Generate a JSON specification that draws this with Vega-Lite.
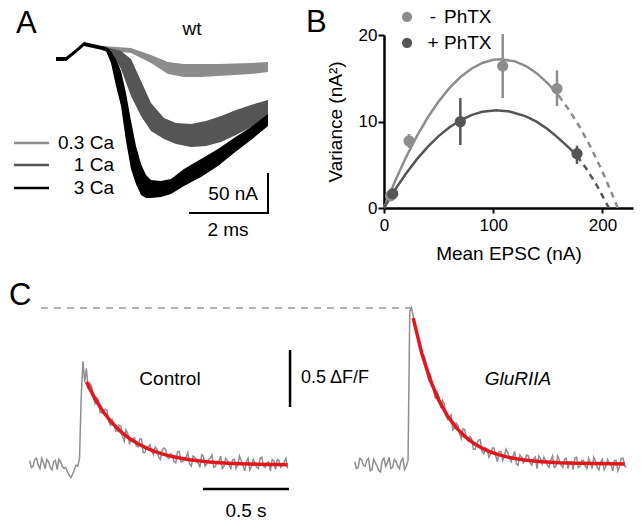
{
"$schema": "https://vega.github.io/schema/vega-lite/v6.json",
"autosize": {"type": "pad"},
"padding": {"left": 8, "top": 6, "right": 4, "bottom": 4},
"columns": 2,
"align": "each",
"bounds": "flush",
"spacing": {"row": 20, "column": 20},
"config": {"view": {"stroke": null}, "font": "Liberation Sans"},
"datasets": {
"aBand03": [{"t":2.385,"hi":3.8,"lo":-1.3},{"t":3.128,"hi":1.3,"lo":-5.1},{"t":3.641,"hi":-7.7,"lo":-17.9},{"t":4.077,"hi":-16.7,"lo":-32.1},{"t":4.487,"hi":-19.2,"lo":-35.9},{"t":4.923,"hi":-19.2,"lo":-35.9},{"t":5.359,"hi":-19.2,"lo":-34.6},{"t":6.205,"hi":-17.9,"lo":-32.1},{"t":6.641,"hi":-16.7,"lo":-29.5}],
"aBand1": [{"t":2.385,"hi":3.8,"lo":-1.3},{"t":2.667,"hi":0,"lo":-6.4},{"t":2.872,"hi":-2.6,"lo":-25.6},{"t":3.128,"hi":-12.8,"lo":-60.3},{"t":3.385,"hi":-41.0,"lo":-85.9},{"t":3.641,"hi":-69.2,"lo":-105.1},{"t":3.974,"hi":-88.5,"lo":-115.4},{"t":4.282,"hi":-94.9,"lo":-121.8},{"t":4.667,"hi":-96.2,"lo":-125.6},{"t":5.051,"hi":-92.3,"lo":-124.4},{"t":5.436,"hi":-85.9,"lo":-119.2},{"t":5.821,"hi":-78.2,"lo":-110.3},{"t":6.205,"hi":-71.8,"lo":-100.0},{"t":6.641,"hi":-65.4,"lo":-88.5}],
"aBand3": [{"t":1.205,"hi":-10.3,"lo":-15.4},{"t":1.462,"hi":-10.3,"lo":-15.4},{"t":1.718,"hi":0,"lo":-5.1},{"t":1.923,"hi":9.0,"lo":3.8},{"t":2.154,"hi":6.4,"lo":1.3},{"t":2.385,"hi":3.8,"lo":-1.3},{"t":2.487,"hi":2.6,"lo":-2.6},{"t":2.615,"hi":-2.6,"lo":-17.9},{"t":2.744,"hi":-12.8,"lo":-47.4},{"t":2.872,"hi":-28.2,"lo":-73.1},{"t":3.0,"hi":-56.4,"lo":-117.9},{"t":3.128,"hi":-92.3,"lo":-153.8},{"t":3.256,"hi":-124.4,"lo":-173.1},{"t":3.385,"hi":-147.4,"lo":-187.2},{"t":3.513,"hi":-161.5,"lo":-191.0},{"t":3.641,"hi":-167.9,"lo":-191.0},{"t":3.897,"hi":-169.2,"lo":-189.7},{"t":4.154,"hi":-166.7,"lo":-185.9},{"t":4.487,"hi":-153.8,"lo":-175.6},{"t":4.923,"hi":-141.0,"lo":-164.1},{"t":5.359,"hi":-128.2,"lo":-150.0},{"t":5.769,"hi":-114.1,"lo":-133.3},{"t":6.205,"hi":-100.0,"lo":-116.7},{"t":6.641,"hi":-83.3,"lo":-98.7}],
"aLeg": [{"c":"0.3","t":0.128,"I":-120.5},{"c":"0.3","t":1.026,"I":-120.5},{"c":"1","t":0.128,"I":-148.7},{"c":"1","t":1.026,"I":-148.7},{"c":"3","t":0.128,"I":-178.2},{"c":"3","t":1.026,"I":-178.2}],
"aRules": [{"t1":6.641,"t2":6.641,"I1":-160.3,"I2":-210.3},{"t1":4.641,"t2":6.641,"I1":-210.3,"I2":-210.3}],
"aLabel": [{"t":0.18,"I":20.5,"txt":"A"}],
"aTextC": [{"t":4.69,"I":25.6,"txt":"wt"},{"t":5.615,"I":-232.5,"txt":"2 ms"}],
"aTextR": [{"t":2.692,"I":-120.5,"txt":"0.3 Ca"},{"t":2.692,"I":-148.7,"txt":"1 Ca"},{"t":2.692,"I":-178.2,"txt":"3 Ca"},{"t":6.385,"I":-185.9,"txt":"50 nA"}],
"bPts": [{"g":"minus","I":6,"v":1.4},{"g":"minus","I":22.9,"v":7.75},{"g":"minus","I":108.7,"v":16.4},{"g":"minus","I":158.4,"v":13.8},{"g":"plus","I":8,"v":1.65},{"g":"plus","I":69.9,"v":9.98},{"g":"plus","I":176.7,"v":6.28}],
"bErr": [{"id":1,"g":"minus","I":6,"v":1.2},{"id":1,"g":"minus","I":6,"v":1.6},{"id":2,"g":"minus","I":22.9,"v":6.95},{"id":2,"g":"minus","I":22.9,"v":8.55},{"id":3,"g":"minus","I":108.7,"v":12.7},{"id":3,"g":"minus","I":108.7,"v":20.1},{"id":4,"g":"minus","I":158.4,"v":11.8},{"id":4,"g":"minus","I":158.4,"v":15.9},{"id":5,"g":"plus","I":8,"v":1.3},{"id":5,"g":"plus","I":8,"v":2.0},{"id":6,"g":"plus","I":69.9,"v":7.28},{"id":6,"g":"plus","I":69.9,"v":12.7},{"id":7,"g":"plus","I":176.7,"v":5.1},{"id":7,"g":"plus","I":176.7,"v":7.2}],
"bFitSolid": [{"g":"minus","I":0,"v":0},{"g":"minus","I":10,"v":3.06},{"g":"minus","I":20,"v":5.83},{"g":"minus","I":30,"v":8.29},{"g":"minus","I":40,"v":10.46},{"g":"minus","I":50,"v":12.32},{"g":"minus","I":60,"v":13.88},{"g":"minus","I":70,"v":15.14},{"g":"minus","I":80,"v":16.1},{"g":"minus","I":90,"v":16.77},{"g":"minus","I":100,"v":17.13},{"g":"minus","I":107,"v":17.2},{"g":"minus","I":120,"v":16.95},{"g":"minus","I":130,"v":16.41},{"g":"minus","I":140,"v":15.56},{"g":"minus","I":150,"v":14.42},{"g":"minus","I":160,"v":12.98},{"g":"plus","I":0,"v":0},{"g":"plus","I":10,"v":2.09},{"g":"plus","I":20,"v":3.96},{"g":"plus","I":30,"v":5.62},{"g":"plus","I":40,"v":7.07},{"g":"plus","I":50,"v":8.31},{"g":"plus","I":60,"v":9.33},{"g":"plus","I":70,"v":10.14},{"g":"plus","I":80,"v":10.74},{"g":"plus","I":90,"v":11.12},{"g":"plus","I":103,"v":11.3},{"g":"plus","I":115,"v":11.15},{"g":"plus","I":130,"v":10.6},{"g":"plus","I":140,"v":9.95},{"g":"plus","I":150,"v":9.1},{"g":"plus","I":160,"v":8.05},{"g":"plus","I":170,"v":6.9},{"g":"plus","I":177,"v":6.0}],
"bFitDash": [{"g":"minus","I":160,"v":12.98},{"g":"minus","I":170,"v":11.24},{"g":"minus","I":180,"v":9.2},{"g":"minus","I":190,"v":6.85},{"g":"minus","I":200,"v":4.21},{"g":"minus","I":210,"v":1.26},{"g":"minus","I":214,"v":0},{"g":"plus","I":177,"v":6.0},{"g":"plus","I":185,"v":4.6},{"g":"plus","I":195,"v":2.6},{"g":"plus","I":206,"v":0}],
"bLegPts": [{"g":"minus","I":21.1,"v":22.1},{"g":"plus","I":21.1,"v":19.1}],
"bLegSym": [{"I":44.8,"v":22.1,"txt":"-"},{"I":44.8,"v":19.1,"txt":"+"}],
"bLegTxt": [{"I":54.9,"v":22.1,"txt":"PhTX"},{"I":54.9,"v":19.1,"txt":"PhTX"}],
"bLabel": [{"I":-71.4,"v":20.35,"txt":"B"}],
"cCtrl": [
{"t":0.12,"v":0.03},{"t":0.14,"v":-0.02},{"t":0.16,"v":0.05},{"t":0.18,"v":-0.04},{"t":0.20,"v":0.01},{"t":0.22,"v":0.04},{"t":0.24,"v":-0.03},{"t":0.26,"v":0.02},{"t":0.28,"v":-0.05},{"t":0.30,"v":0.02},{"t":0.32,"v":-0.04},{"t":0.34,"v":-0.07},{"t":0.36,"v":-0.12},{"t":0.38,"v":-0.05},{"t":0.40,"v":-0.02},{"t":0.41,"v":0.05},{"t":0.42,"v":0.60},{"t":0.43,"v":0.90},{"t":0.44,"v":0.72},{"t":0.45,"v":0.84},{"t":0.46,"v":0.66},{"t":0.48,"v":0.68},{"t":0.50,"v":0.53},{"t":0.52,"v":0.56},{"t":0.54,"v":0.45},{"t":0.56,"v":0.48},{"t":0.58,"v":0.37},{"t":0.60,"v":0.39},{"t":0.62,"v":0.29},{"t":0.64,"v":0.34},{"t":0.66,"v":0.24},{"t":0.68,"v":0.30},{"t":0.70,"v":0.18},{"t":0.72,"v":0.22},{"t":0.74,"v":0.16},{"t":0.76,"v":0.22},{"t":0.78,"v":0.10},{"t":0.80,"v":0.15},{"t":0.82,"v":0.17},{"t":0.84,"v":0.08},{"t":0.86,"v":0.13},{"t":0.88,"v":0.04},{"t":0.90,"v":0.14},{"t":0.92,"v":0.06},{"t":0.94,"v":0.09},{"t":0.96,"v":0.02},{"t":0.98,"v":0.11},{"t":1.00,"v":0.02},{"t":1.02,"v":0.05},{"t":1.04,"v":0.10},{"t":1.06,"v":-0.02},{"t":1.08,"v":0.06},{"t":1.10,"v":0.01},{"t":1.12,"v":0.08},{"t":1.14,"v":-0.02},{"t":1.16,"v":0.04},{"t":1.18,"v":0.08},{"t":1.20,"v":-0.02},{"t":1.22,"v":0.02},{"t":1.24,"v":-0.04},{"t":1.26,"v":0.05},{"t":1.28,"v":-0.01},{"t":1.30,"v":0.04},{"t":1.32,"v":-0.04},{"t":1.34,"v":0.07},{"t":1.36,"v":-0.01},{"t":1.38,"v":0.02},{"t":1.40,"v":-0.05},{"t":1.42,"v":0.04},{"t":1.44,"v":-0.03},{"t":1.46,"v":0.05},{"t":1.48,"v":-0.02},{"t":1.50,"v":0.01},{"t":1.52,"v":-0.06},{"t":1.54,"v":0.03},{"t":1.56,"v":0.04},{"t":1.58,"v":-0.03},{"t":1.60,"v":0.02},{"t":1.62,"v":-0.04},
{"t":0.13,"v":-0.03},{"t":0.15,"v":0.04},{"t":0.17,"v":-0.01},{"t":0.19,"v":0.05},{"t":0.21,"v":-0.04},{"t":0.23,"v":0.02},{"t":0.25,"v":-0.05},{"t":0.27,"v":0.03},{"t":0.29,"v":0.04},{"t":0.31,"v":-0.02},{"t":0.33,"v":-0.03},{"t":0.35,"v":-0.10},{"t":0.37,"v":-0.09},{"t":0.39,"v":-0.01},
{"t":0.47,"v":0.71},{"t":0.49,"v":0.59},{"t":0.51,"v":0.58},{"t":0.53,"v":0.45},{"t":0.55,"v":0.47},{"t":0.57,"v":0.47},{"t":0.59,"v":0.34},{"t":0.61,"v":0.35},{"t":0.63,"v":0.29},{"t":0.65,"v":0.33},{"t":0.67,"v":0.20},{"t":0.69,"v":0.27},{"t":0.71,"v":0.21},{"t":0.73,"v":0.23},{"t":0.75,"v":0.15},{"t":0.77,"v":0.22},{"t":0.79,"v":0.10},{"t":0.81,"v":0.15},{"t":0.83,"v":0.11},{"t":0.85,"v":0.15},{"t":0.87,"v":0.06},{"t":0.89,"v":0.12},{"t":0.91,"v":0.13},{"t":0.93,"v":0.05},{"t":0.95,"v":0.08},{"t":0.97,"v":0.01},{"t":0.99,"v":0.11},{"t":1.01,"v":0.02},{"t":1.03,"v":0.06},{"t":1.05,"v":0.00},{"t":1.07,"v":0.07},{"t":1.09,"v":0.03},{"t":1.11,"v":-0.03},{"t":1.13,"v":0.07},{"t":1.15,"v":0.00},{"t":1.17,"v":0.05},{"t":1.19,"v":-0.03},{"t":1.21,"v":0.02},{"t":1.23,"v":0.07},{"t":1.25,"v":-0.02},{"t":1.27,"v":0.03},{"t":1.29,"v":-0.04},{"t":1.31,"v":0.04},{"t":1.33,"v":-0.01},{"t":1.35,"v":0.03},{"t":1.37,"v":-0.06},{"t":1.39,"v":0.05},{"t":1.41,"v":-0.02},{"t":1.43,"v":0.01},{"t":1.45,"v":-0.04},{"t":1.47,"v":0.06},{"t":1.49,"v":-0.03},{"t":1.51,"v":0.02},{"t":1.53,"v":0.04},{"t":1.55,"v":-0.05},{"t":1.57,"v":0.03},{"t":1.59,"v":-0.01},{"t":1.61,"v":0.05}],
"cGlu": [
{"t":2.01,"v":0.02},{"t":2.03,"v":-0.03},{"t":2.05,"v":0.04},{"t":2.07,"v":-0.02},{"t":2.09,"v":0.05},{"t":2.11,"v":-0.05},{"t":2.13,"v":0.01},{"t":2.15,"v":-0.06},{"t":2.17,"v":0.03},{"t":2.19,"v":-0.02},{"t":2.21,"v":0.06},{"t":2.23,"v":-0.03},{"t":2.25,"v":0.02},{"t":2.27,"v":-0.04},{"t":2.29,"v":0.05},{"t":2.31,"v":-0.02},{"t":2.32,"v":0.03},{"t":2.33,"v":1.34},{"t":2.34,"v":1.37},{"t":2.35,"v":1.30},{"t":2.37,"v":1.17},{"t":2.39,"v":1.00},{"t":2.41,"v":0.96},{"t":2.43,"v":0.80},{"t":2.45,"v":0.78},{"t":2.47,"v":0.63},{"t":2.49,"v":0.63},{"t":2.51,"v":0.49},{"t":2.53,"v":0.53},{"t":2.55,"v":0.39},{"t":2.57,"v":0.43},{"t":2.59,"v":0.32},{"t":2.61,"v":0.34},{"t":2.63,"v":0.22},{"t":2.65,"v":0.30},{"t":2.67,"v":0.20},{"t":2.69,"v":0.22},{"t":2.71,"v":0.13},{"t":2.73,"v":0.21},{"t":2.75,"v":0.11},{"t":2.77,"v":0.14},{"t":2.79,"v":0.06},{"t":2.81,"v":0.14},{"t":2.83,"v":0.07},{"t":2.85,"v":0.11},{"t":2.87,"v":0.03},{"t":2.89,"v":0.13},{"t":2.91,"v":0.05},{"t":2.93,"v":0.07},{"t":2.95,"v":0.00},{"t":2.97,"v":0.08},{"t":2.99,"v":0.01},{"t":3.01,"v":0.08},{"t":3.03,"v":0.01},{"t":3.05,"v":0.04},{"t":3.07,"v":-0.04},{"t":3.09,"v":0.05},{"t":3.11,"v":0.06},{"t":3.13,"v":-0.01},{"t":3.15,"v":0.03},{"t":3.17,"v":-0.03},{"t":3.19,"v":0.07},{"t":3.21,"v":-0.01},{"t":3.23,"v":0.04},{"t":3.25,"v":-0.04},{"t":3.27,"v":0.02},{"t":3.29,"v":0.05},{"t":3.31,"v":-0.03},{"t":3.33,"v":0.03},{"t":3.35,"v":-0.02},{"t":3.37,"v":0.05},{"t":3.39,"v":-0.04},{"t":3.41,"v":0.02},{"t":3.43,"v":-0.05},{"t":3.45,"v":0.04},{"t":3.47,"v":-0.02},{"t":3.49,"v":0.01},{"t":3.51,"v":-0.06},{"t":3.53,"v":0.03},{"t":3.55,"v":-0.02},{"t":3.57,"v":0.05},{"t":3.59,"v":-0.03},
{"t":2.02,"v":-0.04},{"t":2.04,"v":0.05},{"t":2.06,"v":-0.01},{"t":2.08,"v":0.03},{"t":2.10,"v":-0.06},{"t":2.12,"v":0.04},{"t":2.14,"v":-0.02},{"t":2.16,"v":-0.07},{"t":2.18,"v":0.05},{"t":2.20,"v":0.01},{"t":2.22,"v":-0.04},{"t":2.24,"v":0.04},{"t":2.26,"v":-0.02},{"t":2.28,"v":0.03},{"t":2.30,"v":-0.05},
{"t":2.36,"v":1.19},{"t":2.38,"v":1.11},{"t":2.40,"v":0.96},{"t":2.42,"v":0.92},{"t":2.44,"v":0.74},{"t":2.46,"v":0.72},{"t":2.48,"v":0.57},{"t":2.50,"v":0.59},{"t":2.52,"v":0.56},{"t":2.54,"v":0.43},{"t":2.56,"v":0.41},{"t":2.58,"v":0.30},{"t":2.60,"v":0.36},{"t":2.62,"v":0.26},{"t":2.64,"v":0.31},{"t":2.66,"v":0.22},{"t":2.68,"v":0.24},{"t":2.70,"v":0.13},{"t":2.72,"v":0.18},{"t":2.74,"v":0.21},{"t":2.76,"v":0.09},{"t":2.78,"v":0.13},{"t":2.80,"v":0.09},{"t":2.82,"v":0.14},{"t":2.84,"v":0.02},{"t":2.86,"v":0.11},{"t":2.88,"v":0.07},{"t":2.90,"v":0.10},{"t":2.92,"v":0.02},{"t":2.94,"v":0.11},{"t":2.96,"v":-0.01},{"t":2.98,"v":0.06},{"t":3.00,"v":0.03},{"t":3.02,"v":0.07},{"t":3.04,"v":-0.01},{"t":3.06,"v":0.06},{"t":3.08,"v":0.07},{"t":3.10,"v":0.00},{"t":3.12,"v":0.03},{"t":3.14,"v":-0.03},{"t":3.16,"v":0.07},{"t":3.18,"v":-0.02},{"t":3.20,"v":0.03},{"t":3.22,"v":-0.03},{"t":3.24,"v":0.05},{"t":3.26,"v":0.01},{"t":3.28,"v":-0.05},{"t":3.30,"v":0.06},{"t":3.32,"v":-0.02},{"t":3.34,"v":0.03},{"t":3.36,"v":-0.04},{"t":3.38,"v":0.01},{"t":3.40,"v":0.06},{"t":3.42,"v":-0.03},{"t":3.44,"v":0.02},{"t":3.46,"v":-0.05},{"t":3.48,"v":0.04},{"t":3.50,"v":-0.01},{"t":3.52,"v":0.03},{"t":3.54,"v":-0.06},{"t":3.56,"v":0.05},{"t":3.58,"v":-0.02}],
"cFitCtrl": [{"t":0.45,"v":0.72},{"t":0.50,"v":0.572},{"t":0.55,"v":0.453},{"t":0.60,"v":0.359},{"t":0.65,"v":0.284},{"t":0.70,"v":0.224},{"t":0.75,"v":0.177},{"t":0.80,"v":0.139},{"t":0.85,"v":0.108},{"t":0.90,"v":0.084},{"t":0.95,"v":0.065},{"t":1.00,"v":0.05},{"t":1.05,"v":0.038},{"t":1.10,"v":0.028},{"t":1.15,"v":0.02},{"t":1.20,"v":0.014},{"t":1.25,"v":0.009},{"t":1.30,"v":0.005},{"t":1.35,"v":0.002},{"t":1.40,"v":0.0},{"t":1.45,"v":-0.002},{"t":1.50,"v":-0.004},{"t":1.55,"v":-0.005},{"t":1.62,"v":-0.006}],
"cFitGlu": [{"t":2.35,"v":1.28},{"t":2.40,"v":0.97},{"t":2.45,"v":0.734},{"t":2.50,"v":0.556},{"t":2.55,"v":0.421},{"t":2.60,"v":0.319},{"t":2.65,"v":0.242},{"t":2.70,"v":0.183},{"t":2.75,"v":0.139},{"t":2.80,"v":0.105},{"t":2.85,"v":0.08},{"t":2.90,"v":0.06},{"t":2.95,"v":0.046},{"t":3.00,"v":0.035},{"t":3.05,"v":0.026},{"t":3.10,"v":0.02},{"t":3.15,"v":0.015},{"t":3.20,"v":0.011},{"t":3.25,"v":0.009},{"t":3.30,"v":0.007},{"t":3.40,"v":0.004},{"t":3.50,"v":0.002},{"t":3.58,"v":0.001}],
"cDash": [{"t":0.186,"v":1.368},{"t":2.355,"v":1.368}],
"cRules": [{"t1":1.634,"t2":1.634,"v1":0.5,"v2":1.0},{"t1":1.128,"t2":1.628,"v1":-0.219,"v2":-0.219}],
"cLabel": [{"t":0,"v":1.395,"txt":"C"}],
"cTextL": [{"t":1.698,"v":0.754,"txt":"0.5 ΔF/F"}],
"cTextC": [{"t":0.936,"v":0.746,"txt":"Control"},{"t":1.378,"v":-0.412,"txt":"0.5 s"}],
"cTextI": [{"t":2.959,"v":0.746,"txt":"GluRIIA"}]
},
"concat": [
{
"width": 355, "height": 173,
"layer": [
{"data": {"name": "aBand03"}, "mark": {"type": "area", "color": "#8d8d8d", "clip": false},
 "encoding": {"x": {"field": "t", "type": "quantitative", "scale": {"domain": [0, 9.1026], "nice": false, "zero": false}, "axis": null},
  "y": {"field": "hi", "type": "quantitative", "scale": {"domain": [-203.85, 17.95], "nice": false, "zero": false}, "axis": null, "stack": null},
  "y2": {"field": "lo"}}},
{"data": {"name": "aBand1"}, "mark": {"type": "area", "color": "#555555", "clip": false},
 "encoding": {"x": {"field": "t", "type": "quantitative", "axis": null},
  "y": {"field": "hi", "type": "quantitative", "axis": null, "stack": null},
  "y2": {"field": "lo"}}},
{"data": {"name": "aBand3"}, "mark": {"type": "area", "color": "#000000", "clip": false},
 "encoding": {"x": {"field": "t", "type": "quantitative", "axis": null},
  "y": {"field": "hi", "type": "quantitative", "axis": null, "stack": null},
  "y2": {"field": "lo"}}},
{"data": {"name": "aLeg"}, "mark": {"type": "line", "strokeWidth": 2.5, "clip": false},
 "encoding": {"x": {"field": "t", "type": "quantitative", "axis": null},
  "y": {"field": "I", "type": "quantitative", "axis": null},
  "color": {"field": "c", "type": "nominal", "scale": {"domain": ["0.3", "1", "3"], "range": ["#8d8d8d", "#555555", "#000000"]}, "legend": null}}},
{"data": {"name": "aRules"}, "mark": {"type": "rule", "strokeWidth": 2, "color": "#000", "strokeCap": "square", "clip": false},
 "encoding": {"x": {"field": "t1", "type": "quantitative", "axis": null}, "x2": {"field": "t2"},
  "y": {"field": "I1", "type": "quantitative", "axis": null}, "y2": {"field": "I2"}}},
{"data": {"name": "aLabel"}, "mark": {"type": "text", "fontSize": 31, "align": "left", "baseline": "alphabetic", "color": "#000", "clip": false},
 "encoding": {"x": {"field": "t", "type": "quantitative", "axis": null}, "y": {"field": "I", "type": "quantitative", "axis": null}, "text": {"field": "txt"}}},
{"data": {"name": "aTextC"}, "mark": {"type": "text", "fontSize": 19, "align": "center", "baseline": "middle", "color": "#000", "clip": false},
 "encoding": {"x": {"field": "t", "type": "quantitative", "axis": null}, "y": {"field": "I", "type": "quantitative", "axis": null}, "text": {"field": "txt"}}},
{"data": {"name": "aTextR"}, "mark": {"type": "text", "fontSize": 19, "align": "right", "baseline": "middle", "color": "#000", "clip": false},
 "encoding": {"x": {"field": "t", "type": "quantitative", "axis": null}, "y": {"field": "I", "type": "quantitative", "axis": null}, "text": {"field": "txt"}}}
]
},
{
"width": 249, "height": 173,
"encoding": {
  "x": {"field": "I", "type": "quantitative", "scale": {"domain": [0, 228], "nice": false, "zero": false},
   "axis": {"title": "Mean EPSC (nA)", "values": [0, 100, 200], "grid": false, "domainColor": "#000", "domainWidth": 2.5, "tickColor": "#000", "tickWidth": 2, "tickSize": 5, "labelFontSize": 17, "labelColor": "#000", "labelPadding": 4, "labelFlush": false, "labelOverlap": false, "titleFontSize": 19, "titleFontWeight": "normal", "titleColor": "#000", "titlePadding": 11}},
  "y": {"field": "v", "type": "quantitative", "scale": {"domain": [0, 20], "nice": false, "zero": false},
   "axis": {"title": "Variance (nA²)", "values": [0, 10, 20], "grid": false, "domainColor": "#000", "domainWidth": 2.5, "tickColor": "#000", "tickWidth": 2, "tickSize": 6, "labelFontSize": 17, "labelColor": "#000", "labelPadding": 1, "labelFlush": false, "labelOverlap": false, "titleFontSize": 19, "titleFontWeight": "normal", "titleColor": "#000", "titlePadding": 13}}
},
"layer": [
{"data": {"name": "bFitSolid"}, "mark": {"type": "line", "strokeWidth": 2.5, "clip": false},
 "encoding": {"color": {"field": "g", "type": "nominal", "scale": {"domain": ["minus", "plus"], "range": ["#b0b0b0", "#3d3d3d"]}, "legend": null}}},
{"data": {"name": "bFitDash"}, "mark": {"type": "line", "strokeWidth": 2.5, "strokeDash": [6, 5], "clip": false},
 "encoding": {"color": {"field": "g", "type": "nominal", "legend": null}}},
{"data": {"name": "bErr"}, "mark": {"type": "line", "strokeWidth": 2.5, "clip": false},
 "encoding": {"color": {"field": "g", "type": "nominal", "legend": null}, "detail": {"field": "id", "type": "nominal"}}},
{"data": {"name": "bPts"}, "mark": {"type": "point", "filled": true, "opacity": 1, "size": 125, "clip": false},
 "encoding": {"color": {"field": "g", "type": "nominal", "legend": null}}},
{"data": {"name": "bLegPts"}, "mark": {"type": "point", "filled": true, "opacity": 1, "size": 105, "clip": false},
 "encoding": {"color": {"field": "g", "type": "nominal", "legend": null}}},
{"data": {"name": "bLegSym"}, "mark": {"type": "text", "fontSize": 19, "align": "center", "baseline": "middle", "color": "#000", "clip": false},
 "encoding": {"text": {"field": "txt"}}},
{"data": {"name": "bLegTxt"}, "mark": {"type": "text", "fontSize": 19, "align": "left", "baseline": "middle", "color": "#000", "clip": false},
 "encoding": {"text": {"field": "txt"}}},
{"data": {"name": "bLabel"}, "mark": {"type": "text", "fontSize": 31, "align": "left", "baseline": "alphabetic", "color": "#000", "clip": false},
 "encoding": {"text": {"field": "txt"}}}
]
},
{
"width": 355, "height": 293,
"layer": [
{"data": {"name": "cDash"}, "mark": {"type": "line", "strokeWidth": 1.5, "color": "#999999", "strokeDash": [7, 6], "clip": false},
 "encoding": {"x": {"field": "t", "type": "quantitative", "scale": {"domain": [0, 2.064], "nice": false, "zero": false}, "axis": null},
  "y": {"field": "v", "type": "quantitative", "scale": {"domain": [-0.5, 2.07], "nice": false, "zero": false}, "axis": null}}},
{"data": {"name": "cCtrl"}, "mark": {"type": "line", "strokeWidth": 1.5, "color": "#8f8f8f", "clip": false},
 "encoding": {"x": {"field": "t", "type": "quantitative", "axis": null}, "y": {"field": "v", "type": "quantitative", "axis": null}}},
{"data": {"name": "cFitCtrl"}, "mark": {"type": "line", "strokeWidth": 3.5, "color": "#e3161d", "clip": false},
 "encoding": {"x": {"field": "t", "type": "quantitative", "axis": null}, "y": {"field": "v", "type": "quantitative", "axis": null}}},
{"data": {"name": "cRules"}, "mark": {"type": "rule", "strokeWidth": 2.5, "color": "#000", "clip": false},
 "encoding": {"x": {"field": "t1", "type": "quantitative", "axis": null}, "x2": {"field": "t2"},
  "y": {"field": "v1", "type": "quantitative", "axis": null}, "y2": {"field": "v2"}}},
{"data": {"name": "cLabel"}, "mark": {"type": "text", "fontSize": 31, "align": "left", "baseline": "alphabetic", "color": "#000", "clip": false},
 "encoding": {"x": {"field": "t", "type": "quantitative", "axis": null}, "y": {"field": "v", "type": "quantitative", "axis": null}, "text": {"field": "txt"}}},
{"data": {"name": "cTextL"}, "mark": {"type": "text", "fontSize": 18, "align": "left", "baseline": "middle", "color": "#000", "clip": false},
 "encoding": {"x": {"field": "t", "type": "quantitative", "axis": null}, "y": {"field": "v", "type": "quantitative", "axis": null}, "text": {"field": "txt"}}},
{"data": {"name": "cTextC"}, "mark": {"type": "text", "fontSize": 19, "align": "center", "baseline": "middle", "color": "#000", "clip": false},
 "encoding": {"x": {"field": "t", "type": "quantitative", "axis": null}, "y": {"field": "v", "type": "quantitative", "axis": null}, "text": {"field": "txt"}}}
]
},
{
"width": 249, "height": 293,
"layer": [
{"data": {"name": "cGlu"}, "mark": {"type": "line", "strokeWidth": 1.5, "color": "#8f8f8f", "clip": false},
 "encoding": {"x": {"field": "t", "type": "quantitative", "scale": {"domain": [2.1802, 3.6279], "nice": false, "zero": false}, "axis": null},
  "y": {"field": "v", "type": "quantitative", "scale": {"domain": [-0.5, 2.07], "nice": false, "zero": false}, "axis": null}}},
{"data": {"name": "cFitGlu"}, "mark": {"type": "line", "strokeWidth": 3.5, "color": "#e3161d", "clip": false},
 "encoding": {"x": {"field": "t", "type": "quantitative", "axis": null}, "y": {"field": "v", "type": "quantitative", "axis": null}}},
{"data": {"name": "cTextI"}, "mark": {"type": "text", "fontSize": 19, "fontStyle": "italic", "align": "center", "baseline": "middle", "color": "#000", "clip": false},
 "encoding": {"x": {"field": "t", "type": "quantitative", "axis": null}, "y": {"field": "v", "type": "quantitative", "axis": null}, "text": {"field": "txt"}}}
]
}
]
}
